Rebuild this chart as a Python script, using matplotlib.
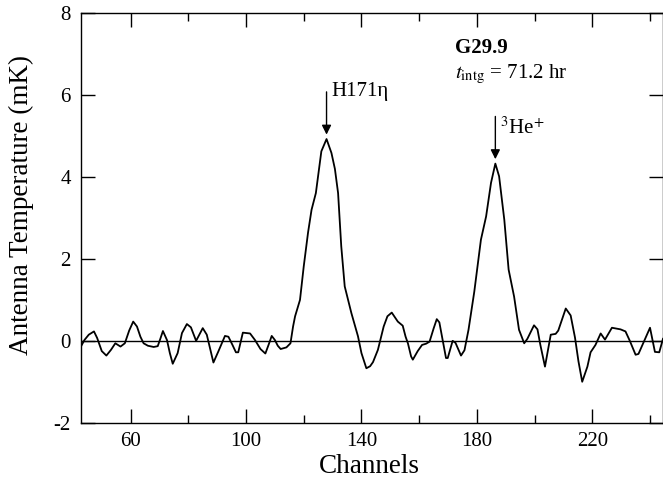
import matplotlib
matplotlib.use("Agg")
from matplotlib import pyplot as plt
from matplotlib.ticker import FixedLocator

# spectrum (channel, antenna temperature in mK)
channels = [42.7, 44.0, 45.5, 47.3, 48.4, 50.0, 51.6, 53.2, 54.7, 56.5,
            58.0, 59.5, 60.9, 62.2, 63.4, 64.5, 66.0, 68.0, 69.4, 70.3,
            71.2, 72.6, 73.6, 74.6, 76.3, 77.8, 79.5, 80.9, 82.7, 85.0,
            86.4, 87.6, 88.7, 90.4, 92.7, 93.9, 95.3, 96.5, 97.3, 98.9,
            101.4, 103.1, 105.0, 106.7, 107.8, 108.9, 110.0, 111.0, 112.0, 114.0,
            115.4, 116.3, 117.0, 118.7, 120.0, 121.5, 122.7, 124.2, 126.1, 127.9,
            129.6, 130.8, 131.9, 133.0, 134.2, 136.5, 138.8, 140.0, 141.7, 143.0,
            144.0, 145.7, 147.7, 149.0, 150.5, 152.6, 154.3, 155.3, 156.1, 157.2,
            157.8, 159.5, 161.0, 162.4, 163.6, 165.0, 166.1, 167.0, 168.2, 169.3,
            169.9, 171.6, 172.6, 174.5, 175.7, 177.1, 179.1, 181.4, 183.2, 184.9,
            186.4, 187.7, 189.5, 191.0, 192.9, 194.6, 196.4, 197.5, 199.8, 201.0,
            202.0, 203.6, 205.6, 207.3, 208.2, 210.8, 212.5, 214.0, 215.2, 216.5,
            218.3, 219.4, 221.1, 222.9, 224.4, 226.8, 229.8, 231.5, 233.0, 235.0,
            236.0, 238.0, 240.0, 241.7, 243.2, 244.5]
temps = [-0.15, 0.02, 0.15, 0.23, 0.07, -0.25, -0.36, -0.22, -0.06, -0.14,
         -0.06, 0.25, 0.47, 0.35, 0.10, -0.06, -0.12, -0.15, -0.13, 0.05,
         0.24, 0.02, -0.30, -0.56, -0.30, 0.19, 0.41, 0.33, 0.00, 0.31,
         0.15, -0.20, -0.53, -0.26, 0.12, 0.10, -0.10, -0.28, -0.28, 0.20,
         0.18, 0.02, -0.20, -0.31, -0.10, 0.12, 0.02, -0.12, -0.20, -0.16,
         -0.06, 0.35, 0.60, 1.00, 1.82, 2.65, 3.20, 3.61, 4.63, 4.93,
         4.59, 4.20, 3.61, 2.31, 1.33, 0.68, 0.11, -0.30, -0.67, -0.62,
         -0.52, -0.22, 0.35, 0.60, 0.69, 0.47, 0.37, 0.10, -0.06, -0.38,
         -0.46, -0.25, -0.10, -0.07, -0.02, 0.30, 0.53, 0.45, 0.00, -0.42,
         -0.42, 0.00, -0.05, -0.36, -0.23, 0.27, 1.20, 2.47, 3.04, 3.86,
         4.33, 4.02, 2.96, 1.74, 1.08, 0.27, -0.06, 0.05, 0.38, 0.28,
         -0.10, -0.63, 0.15, 0.17, 0.25, 0.79, 0.62, 0.08, -0.50, -1.00,
         -0.63, -0.28, -0.10, 0.18, 0.03, 0.32, 0.28, 0.23, 0.00, -0.34,
         -0.32, 0.00, 0.32, -0.27, -0.28, 0.05]

x_major = [60, 100, 140, 180, 220]
x_minor = [80, 120, 160, 200, 240]
y_major = [-2, 0, 2, 4, 6, 8]

# line markers: (channel, peak value, label)
h_line = (127.9, 4.97, "H171\u03b7")
he_line = (186.4, 4.37, "$^{3}$He$^{+}$")

plt.rcParams['font.family'] = ['Liberation Serif', 'DejaVu Serif']
plt.rcParams['mathtext.fontset'] = 'stix'
plt.rcParams['axes.unicode_minus'] = False

fig = plt.figure(figsize=(6.63, 4.78), dpi=100)
ax = fig.add_axes([0.1217, 0.1157, 0.8783, 0.8563])

ax.plot(channels, temps, c='black', linewidth=1.3)
ax.axhline(0, c='black', linewidth=1.0)

ax.set_xlim(42.7, 244.5)
ax.set_ylim(-2, 8)
ax.xaxis.set_major_locator(FixedLocator(x_major))
ax.xaxis.set_minor_locator(FixedLocator(x_minor))
ax.yaxis.set_major_locator(FixedLocator(y_major))
ax.tick_params(which='both', direction='in', top=True, right=True,
               labelsize=15, width=1.0)
ax.tick_params(which='major', length=10, pad=7)
ax.tick_params(which='minor', length=6)
for s in ax.spines.values():
    s.set_linewidth(1.0)

ax.set_xlabel("Channels", fontsize=19.5)
ax.set_ylabel("Antenna Temperature (mK)", fontsize=19.5)
ax.xaxis.set_label_coords(0.495, -0.106)
ax.yaxis.set_label_coords(-0.101, 0.532)
ax.xaxis.label.set_va('center')
ax.yaxis.label.set_va('center')

arrow = dict(arrowstyle='-|>', color='black', lw=1.0, mutation_scale=14)
ax.annotate("", xy=(h_line[0], h_line[1]), xytext=(h_line[0], 6.15),
            arrowprops=arrow)
ax.text(h_line[0] + 1.6, 6.1, h_line[2], fontsize=15, va='center', ha='left')
ax.annotate("", xy=(he_line[0], he_line[1]), xytext=(he_line[0], 5.55),
            arrowprops=arrow)
ax.text(he_line[0] + 1.5, 5.2, he_line[2], fontsize=15, va='center', ha='left')

ax.text(172.4, 7.16, "G29.9", fontsize=15, fontweight='bold', va='center')
ax.text(172.4, 6.5, "$t_{\\rm intg}$ = 71.2 hr", fontsize=15, va='center')

fig.savefig("out.png", dpi=100)
